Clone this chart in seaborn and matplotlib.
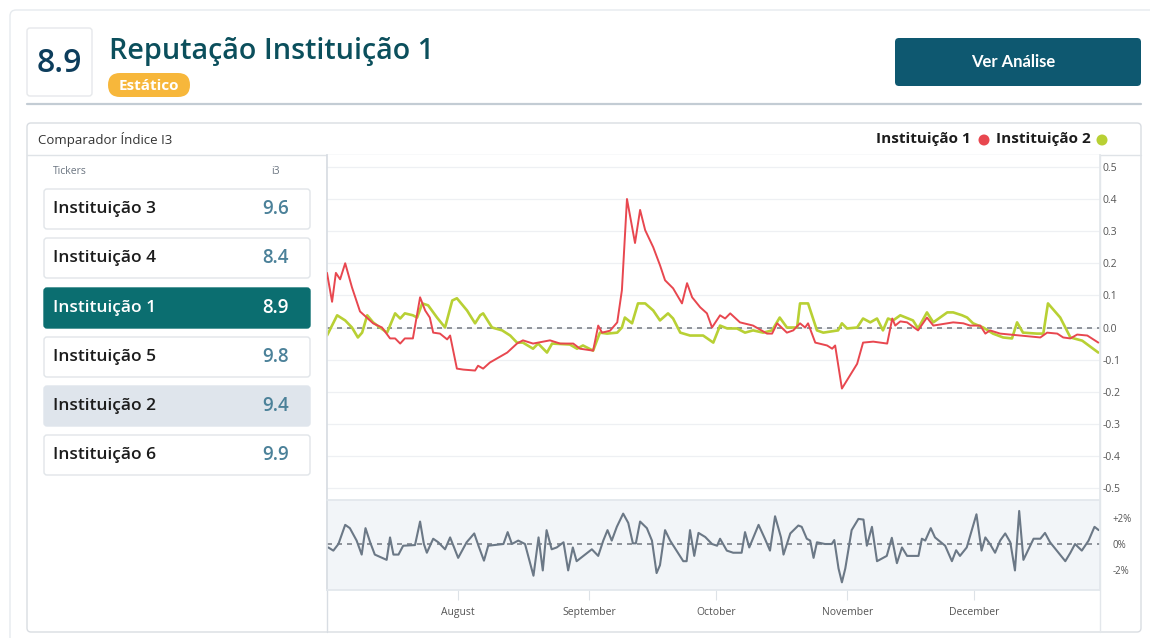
import pandas as pd
import matplotlib.pyplot as plt
import seaborn as sns
from matplotlib.patches import FancyBboxPatch, Circle

# ---- dados ----
score = 8.9
titulo = "Reputação Instituição 1"
tickers = ["Instituição 3", "Instituição 4", "Instituição 1",
           "Instituição 5", "Instituição 2", "Instituição 6"]
i3_values = [9.6, 8.4, 8.9, 9.8, 9.4, 9.9]
months = ["August", "September", "October", "November", "December"]

# dias desde 1 de julho / valor do índice
red_day = [0, 1.2, 2.1, 3.1, 4.3, 5.9, 7.8, 10.9, 13, 14.9, 16.1, 17.3, 18.4, 20.3, 22,
           23.2, 24.3, 25.1, 26.7, 28.4, 29.1, 30.7, 32.2, 35, 35.7, 36.9, 38.5, 42.6,
           44.9, 46.3, 48.7, 52.7, 55.1, 58.2, 59.8, 62.9, 64.1, 65, 66.9, 68.6, 69.7,
           70.9, 72.8, 74, 75.2, 77.1, 78.7, 79.9, 81.8, 83.9, 85.1, 86.3, 88.2, 89.8,
           91, 92.9, 94.1, 95.3, 97.6, 100.7, 104, 105.2, 106.4, 108.7, 110.2, 111.8,
           113, 113.7, 115.4, 118.2, 119.4, 120.1, 121.7, 125.3, 126.7, 129.1, 132.4,
           133.6, 134.3, 135.5, 137.1, 139.7, 141.8, 143.3, 146.6, 148, 150.4, 152,
           154.4, 155.6, 156.7, 159.1, 168.6, 170.2, 172.6, 174, 175.7, 177.3, 179.7,
           182.3]
red_val = [0.17, 0.08, 0.17, 0.15, 0.20, 0.125, 0.05, 0.013, 0.0, -0.034, -0.034, -0.05,
           -0.034, -0.034, 0.094, 0.053, 0.031, -0.016, -0.019, -0.037, -0.025, -0.128,
           -0.131, -0.134, -0.119, -0.128, -0.109, -0.078, -0.05, -0.04, -0.05, -0.04,
           -0.05, -0.05, -0.066, -0.072, 0.006, -0.016, -0.01, 0.016, 0.116, 0.40, 0.263,
           0.366, 0.303, 0.25, 0.194, 0.147, 0.122, 0.075, 0.138, 0.094, 0.063, 0.044,
           0.0, 0.038, 0.028, 0.044, 0.016, 0.006, -0.019, -0.019, 0.013, -0.016, -0.009,
           0.013, 0.0, 0.013, -0.047, -0.056, -0.066, -0.056, -0.19, -0.113, -0.047,
           -0.044, -0.05, 0.028, 0.006, 0.019, 0.016, -0.009, 0.031, 0.006, 0.013, 0.016,
           0.013, 0.006, 0.006, -0.019, -0.009, -0.019, -0.031, -0.016, -0.019, -0.031,
           -0.034, -0.022, -0.025, -0.047]

green_day = [0, 2.4, 4.3, 5.9, 7.3, 8.3, 9.5, 10.9, 12.5, 14.2, 16.1, 17.3, 18.4, 20.3,
             21.3, 22.5, 23.9, 26, 27.9, 29.6, 30.7, 33.1, 35, 36.2, 36.9, 39, 41.4, 43.3,
             44.9, 46.3, 48.7, 49.9, 52, 53.2, 57.4, 59.1, 60.5, 62.9, 64.5, 66.2, 68.6,
             69.7, 70.4, 72.1, 73.5, 75.2, 77.1, 78.7, 80.6, 81.8, 83.5, 85.8, 88.9, 91.3,
             92.9, 94.6, 96.9, 98.8, 100.7, 103.1, 105.2, 107, 108.7, 111.1, 111.8, 113.7,
             115.8, 117.3, 120.8, 121.7, 122.9, 125.3, 126.7, 128.4, 130, 131.4, 132.6,
             133.8, 135.5, 138.5, 139.7, 141.8, 143.3, 146.6, 148, 150.1, 151.3, 152.7,
             155.1, 157.4, 159.8, 161.9, 163.1, 164.5, 167.8, 169.3, 170.4, 173.3, 175.7,
             178.5, 182.3]
green_val = [-0.025, 0.038, 0.022, 0.0, -0.031, -0.016, 0.038, 0.016, 0.0, -0.016, 0.044,
             0.028, 0.044, 0.038, 0.031, 0.075, 0.069, 0.031, 0.0, 0.084, 0.091, 0.053,
             0.013, 0.038, 0.044, 0.0, -0.009, -0.025, -0.047, -0.047, -0.066, -0.05,
             -0.078, -0.05, -0.053, -0.066, -0.056, -0.072, -0.016, -0.019, -0.016, 0.0,
             0.031, 0.013, 0.075, 0.075, 0.053, 0.022, 0.044, 0.028, -0.016, -0.025,
             -0.025, -0.047, 0.006, -0.003, -0.003, -0.016, -0.009, -0.016, -0.009, 0.031,
             0.0, 0.0, 0.075, 0.075, -0.009, -0.016, -0.009, 0.013, -0.003, 0.0, 0.028,
             0.016, 0.028, -0.009, 0.028, 0.022, 0.038, 0.022, -0.003, 0.047, 0.016, 0.047,
             0.047, 0.038, 0.031, 0.013, 0.0, -0.019, -0.031, -0.034, 0.016, -0.016,
             -0.019, -0.019, 0.075, 0.031, -0.031, -0.041, -0.078]

# variação diária (%)
var_day = [0.3, 1.5, 2.7, 4.3, 5.4, 7.0, 8.2, 9.1, 10.2, 11.3, 14.1, 14.9, 15.7, 16.9, 18.0,
           20.8, 22.0, 22.9, 23.6, 25.1, 26.3, 27.9, 29.1, 31.0, 33.0, 34.8, 35.8, 37.1,
           38.1, 41.7, 42.7, 43.7, 45.2, 46.8, 48.8, 50.0, 51.0, 51.9, 53.1, 54.3, 55.9,
           57.0, 58.1, 59.0, 61.0, 62.6, 64.1, 65.3, 66.3, 67.3, 68.5, 70.0, 71.2, 72.3,
           73.0, 74.0, 75.6, 76.8, 77.9, 78.7, 79.9, 81.1, 84.2, 85.0, 85.8, 86.8, 87.8,
           89.4, 91.0, 92.2, 92.9, 94.5, 96.0, 98.0, 98.8, 99.8, 102.0, 103.5, 104.7,
           105.9, 107.3, 107.9, 109.5, 111.4, 112.2, 113.4, 114.2, 115.0, 115.8, 117.7,
           119.3, 119.9, 120.9, 121.7, 122.5, 124.0, 125.6, 126.8, 127.6, 128.8, 130.0,
           132.3, 133.5, 134.7, 135.9, 137.1, 139.8, 140.6, 141.4, 142.7, 143.7, 146.1,
           147.7, 148.7, 149.6, 151.2, 153.5, 154.7, 155.6, 156.7, 157.9, 159.1, 160.3,
           161.5, 162.6, 163.6, 164.6, 165.8, 167.0, 168.6, 169.7, 170.9, 172.5, 174.5,
           175.7, 176.8, 178.4, 180.0, 181.4, 182.4]
var_val = [-0.26, -0.5, 0, 1.45, 1.2, 0.26, -0.8, 1.2, 0.13, -0.8, -1.2, 0.5, -0.8, -0.8,
           -0.13, -0.08, 1.7, 0, -0.66, 0.4, 0.13, -0.4, 0.5, -1.05, 0.13, 0.8, -0.13,
           -1.26, -0.13, 0, 0.9, 0, 0.26, 0, -2.4, 0.5, -2.0, 1.05, -0.4, -0.26, 0.13,
           -2.0, -0.26, -1.3, -0.8, -0.4, -0.9, 0.26, 1.05, 0.26, 1.3, 2.3, 1.6, 0.05,
           0.05, 1.7, 1.2, 0.26, -2.2, -1.6, 1.05, 0.26, -1.3, -1.3, 1.05, -0.9, 0.84,
           0.53, 0, -0.13, 0.4, -0.5, -0.66, -0.66, 0.9, -0.26, 1.45, 0.4, -0.5, 2.1, 0.5,
           -0.8, 0.8, 1.4, 1.3, 0.4, 0.26, -1.05, 0.13, 0, 0, 0.3, -1.85, -2.9, -1.85,
           1.05, 1.9, 1.85, -0.13, 1.3, -1.3, -0.9, 0.47, -1.45, -0.26, -0.9, -0.9, 0.4,
           0.26, 1.2, 0.5, -0.13, -1.3, -0.47, -0.9, -0.26, 2.25, -0.5, 0.5, 0, -0.66,
           0.26, 0.8, 0.13, -2.0, 2.5, -1.2, -0.4, 0.4, 0.4, 0.84, 0.13, -0.5, -1.3,
           -0.66, 0, -0.5, 0.26, 1.3, 1.05]

start = pd.Timestamp("2023-07-01")
df_red = pd.DataFrame({"data": start + pd.to_timedelta(red_day, unit="D"), "valor": red_val})
df_green = pd.DataFrame({"data": start + pd.to_timedelta(green_day, unit="D"), "valor": green_val})
df_var = pd.DataFrame({"data": start + pd.to_timedelta(var_day, unit="D"), "valor": var_val})

sns.set_theme(style="white")
plt.rcParams['font.family'] = ['Open Sans', 'DejaVu Sans']

W, H = 1150, 638
fig = plt.figure(figsize=(W / 100, H / 100), dpi=100)
fig.patch.set_facecolor("white")

# camada de fundo em pixels (y para baixo)
bg = fig.add_axes([0, 0, 1, 1])
bg.set_xlim(0, W)
bg.set_ylim(H, 0)
bg.axis("off")

def caixa(x0, y0, x1, y1, fc="white", ec="#e2e6ea", r=3, lw=1, z=1):
    p = FancyBboxPatch((x0, y0), x1 - x0, y1 - y0, boxstyle=f"round,pad=0,rounding_size={r}",
                       fc=fc, ec=ec, lw=lw, zorder=z)
    bg.add_patch(p)

# cartão externo
caixa(10, 10, 1160, 660, fc="white", ec="#e6eaee", r=6)

# cabeçalho
caixa(27, 28, 92, 96, fc="white", ec="#e6e8eb", r=3)
bg.text(59.5, 63, f"{score}", fontsize=23, color="#0d3d5c", ha="center", va="center",
        fontweight="semibold", zorder=3)
bg.text(109, 51, titulo, fontsize=20.7, color="#0b4f5c", ha="left", va="center",
        fontweight="semibold", zorder=3)
caixa(108, 73, 190, 97, fc="#f7b73b", ec="none", r=12)
bg.text(149, 85.5, "Estático", fontsize=11, color="white", fontweight="bold",
        ha="center", va="center", zorder=3)
caixa(895, 38, 1141, 86, fc="#0e5870", ec="none", r=4)
bg.text(1013, 62, "Ver Análise", fontsize=12, color="white", fontweight="bold",
        ha="center", va="center", family=["Lato", "DejaVu Sans"], zorder=3)
bg.plot([27, 1141], [104, 104], color="#c3ccd4", lw=1.6, zorder=2)

# painel do comparador
caixa(27, 123, 1141, 632, fc="white", ec="#d9dde2", r=4)
bg.plot([27, 1141], [155, 155], color="#dfe3e7", lw=1, zorder=2)
bg.text(38, 139.5, "Comparador Índice I3", fontsize=9.5, color="#333333",
        ha="left", va="center", zorder=3)

# legenda
bg.text(876, 139.5, "Instituição 1", fontsize=11, color="#1c1c1c", fontweight="bold",
        ha="left", va="center", zorder=3)
bg.add_patch(Circle((984, 140), 5.5, fc="#e8474f", ec="none", zorder=3))
bg.text(996, 139.5, "Instituição 2", fontsize=11, color="#1c1c1c", fontweight="bold",
        ha="left", va="center", zorder=3)
bg.add_patch(Circle((1102, 140), 5.5, fc="#b8d034", ec="none", zorder=3))

# lista de tickers
bg.text(53, 172, "Tickers", fontsize=7.5, color="#6a7480", ha="left", va="center", zorder=3)
bg.text(275, 172, "i3", fontsize=7.5, color="#6a7480", ha="center", va="center", zorder=3)
row_tops = [189, 238, 288, 337, 386, 435]
for nome, val, top in zip(tickers, i3_values, row_tops):
    if nome == "Instituição 1":
        fc, ec, tc, vc = "#0b6e70", "#0b6e70", "white", "white"
    elif nome == "Instituição 2":
        fc, ec, tc, vc = "#dfe5ec", "#dfe5ec", "#1c1c1c", "#4b8199"
    else:
        fc, ec, tc, vc = "white", "#e1e5e9", "#1c1c1c", "#4b8199"
    caixa(44, top, 310, top + 40, fc=fc, ec=ec, r=3, z=2)
    bg.text(53, top + 20, nome, fontsize=12.5, color=tc, fontweight="semibold",
            ha="left", va="center", zorder=3)
    bg.text(289, top + 20, f"{val:.1f}", fontsize=13.5, color=vc, fontweight="semibold",
            ha="right", va="center", zorder=3)

# linhas verticais abaixo dos gráficos
bg.plot([327, 327], [155, 632], color="#d8dde3", lw=1, zorder=2)
bg.plot([1100, 1100], [155, 632], color="#e3e7eb", lw=1, zorder=2)

def fpos(x0, y0, x1, y1):
    return [x0 / W, 1 - y1 / H, (x1 - x0) / W, (y1 - y0) / H]

x_end = start + pd.Timedelta(days=182.7)

# gráfico principal
ax = fig.add_axes(fpos(327, 155, 1100, 500))
ax.set_facecolor("white")
yt = [0.5, 0.4, 0.3, 0.2, 0.1, 0.0, -0.1, -0.2, -0.3, -0.4, -0.5]
for v in yt:
    ax.axhline(v, color="#eef0f3", lw=0.9, zorder=0)
ax.axhline(0, color="#7d828a", lw=1.2, ls=(0, (3, 3)), zorder=1)
sns.lineplot(data=df_green, x="data", y="valor", color="#b8d034", lw=1.9, ax=ax, zorder=2)
sns.lineplot(data=df_red, x="data", y="valor", color="#e8474f", lw=1.4, ax=ax, zorder=3)
ax.set_xlim(start, x_end)
ax.set_ylim(-0.537, 0.537)
ax.yaxis.tick_right()
ax.set_yticks(yt)
ax.set_yticklabels([f"{v:.1f}" for v in yt])
ax.tick_params(axis="y", length=0, pad=2, labelsize=7.5, labelcolor="#555555")
ax.set_xticks([])
ax.set_xlabel("")
ax.set_ylabel("")
for s in ax.spines.values():
    s.set_visible(False)
ax.spines["left"].set_visible(True)
ax.spines["left"].set_color("#d8dde3")
ax.spines["right"].set_visible(True)
ax.spines["right"].set_color("#e3e7eb")

# variação diária
ax2 = fig.add_axes(fpos(327, 500, 1100, 590))
ax2.set_facecolor("#f2f5f8")
ax2.axhline(0, color="#7d828a", lw=1.2, ls=(0, (3, 3)), zorder=1)
sns.lineplot(data=df_var, x="data", y="valor", color="#6b7886", lw=1.5, ax=ax2, zorder=2)
ax2.set_xlim(start, x_end)
ax2.set_ylim(-3.48, 3.33)
ax2.yaxis.tick_right()
ax2.set_yticks([2, 0, -2])
ax2.set_yticklabels(["+2%", "0%", "-2%"])
ax2.tick_params(axis="y", length=0, pad=9, labelsize=7, labelcolor="#555555")
ax2.set_xticks(pd.date_range("2023-08-01", periods=len(months), freq="MS"))
ax2.set_xticklabels(months)
ax2.tick_params(axis="x", direction="out", length=7, width=0.8, color="#dde2e7",
                pad=5, labelsize=7.5, labelcolor="#555555", bottom=True)
ax2.set_xlabel("")
ax2.set_ylabel("")
for s in ax2.spines.values():
    s.set_color("#e2e7ec")
ax2.spines["left"].set_color("#d8dde3")

fig.savefig("out.png", dpi=100, facecolor="white")
